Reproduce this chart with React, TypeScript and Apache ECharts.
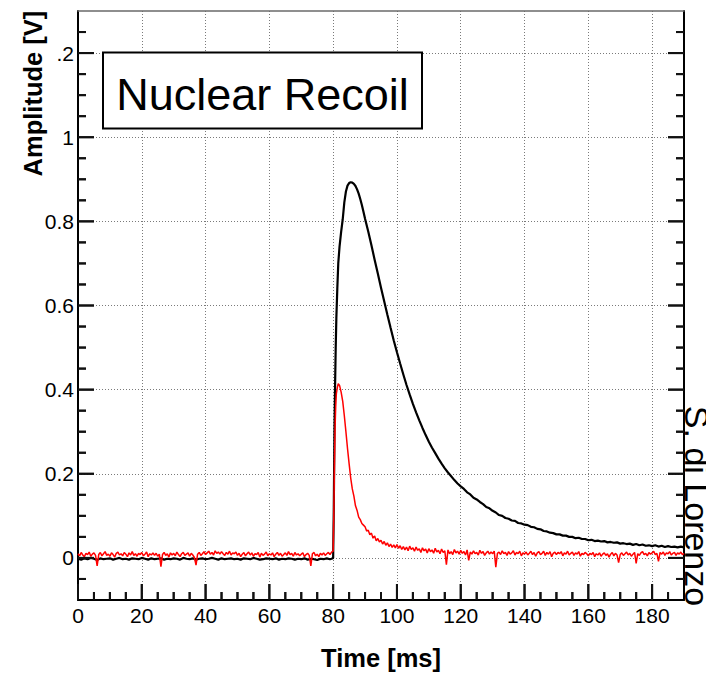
import { useEffect, useRef } from "react";
import * as echarts from "echarts";

// Sampling times of the slow (black) trace (ms)
const blackTimeMs = [
  0, 1, 2, 3, 4, 5, 6, 7, 8, 9, 10, 11, 12, 13, 14, 15, 16, 17, 18, 19,
  20, 21, 22, 23, 24, 25, 26, 27, 28, 29, 30, 31, 32, 33, 34, 35, 36, 37, 38, 39,
  40, 41, 42, 43, 44, 45, 46, 47, 48, 49, 50, 51, 52, 53, 54, 55, 56, 57, 58, 59,
  60, 61, 62, 63, 64, 65, 66, 67, 68, 69, 70, 71, 72, 73, 74, 75, 76, 77, 78, 79,
  79.5, 80, 80.2, 80.4, 80.6, 80.8, 81, 81.3, 81.6, 82, 82.5, 83, 83.5, 84, 84.5,
  85, 85.5, 86, 86.5, 87, 87.5, 88, 88.5, 89, 89.5,
  90, 91, 92, 93, 94, 95, 96, 97, 98, 99, 100, 101, 102, 103, 104, 105, 106, 107, 108, 109,
  110, 111, 112, 113, 114, 115, 116, 117, 118, 119, 120, 121, 122, 123, 124, 125, 126, 127, 128, 129,
  130, 131, 132, 133, 134, 135, 136, 137, 138, 139, 140, 141, 142, 143, 144, 145, 146, 147, 148, 149,
  150, 151, 152, 153, 154, 155, 156, 157, 158, 159, 160, 161, 162, 163, 164, 165, 166, 167, 168, 169,
  170, 171, 172, 173, 174, 175, 176, 177, 178, 179, 180, 181, 182, 183, 184, 185, 186, 187, 188, 189,
  190,
];

// Slow (black) trace amplitude (V)
const traceBlack = [
  -0.002, -0.004, -0.001, -0.003, 0.0, -0.002, -0.005, -0.001, -0.003, -0.002,
  -0.001, -0.004, -0.002, 0.0, -0.003, -0.002, -0.004, -0.001, -0.002, -0.003,
  0.0, -0.002, -0.004, -0.001, -0.003, -0.002, -0.001, -0.004, -0.002, -0.003,
  -0.001, -0.002, -0.004, 0.0, -0.002, -0.003, -0.001, -0.004, -0.002, -0.001,
  -0.003, -0.002, 0.0, -0.002, -0.004, -0.001, -0.003, -0.002, -0.001, -0.003,
  -0.002, -0.004, -0.001, -0.002, -0.003, 0.0, -0.002, -0.004, -0.003, -0.001,
  -0.002, -0.003, -0.001, -0.004, -0.002, -0.003, -0.001, -0.002, -0.004, -0.002,
  -0.003, -0.001, -0.004, -0.002, -0.003, -0.005, -0.002, -0.003, -0.001, -0.003,
  -0.002, 0.0, 0.12, 0.3, 0.41, 0.5, 0.57, 0.64, 0.7, 0.74, 0.775, 0.805, 0.845, 0.871, 0.885,
  0.891, 0.893, 0.892, 0.889, 0.884, 0.876, 0.866, 0.853, 0.839, 0.823,
  0.806, 0.776, 0.743, 0.709, 0.676, 0.642, 0.61, 0.578, 0.547, 0.517,
  0.489, 0.462, 0.436, 0.411, 0.388, 0.366, 0.346, 0.327, 0.309, 0.292,
  0.276, 0.262, 0.249, 0.236, 0.224, 0.213, 0.203, 0.194, 0.185, 0.177,
  0.17, 0.164, 0.156, 0.151, 0.143, 0.139, 0.133, 0.128, 0.121, 0.118,
  0.112, 0.108, 0.102, 0.1, 0.095, 0.093, 0.089, 0.088, 0.083, 0.082,
  0.079, 0.078, 0.074, 0.073, 0.069, 0.068, 0.064, 0.063, 0.06, 0.059,
  0.056, 0.056, 0.053, 0.053, 0.05, 0.05, 0.047, 0.048, 0.045, 0.045,
  0.042, 0.043, 0.04, 0.041, 0.039, 0.04, 0.037, 0.038, 0.036, 0.037,
  0.034, 0.035, 0.033, 0.034, 0.031, 0.033, 0.03, 0.032, 0.029, 0.03,
  0.028, 0.03, 0.027, 0.029, 0.026, 0.028, 0.026, 0.027, 0.025, 0.027,
  0.025,
];

// Sampling times of the fast (red) trace (ms)
const redTimeMs = [
  0, 0.5, 1, 1.5, 2, 2.5, 3, 3.5, 4, 4.5, 5, 5.5, 6, 6.5, 7, 7.5, 8, 8.5, 9, 9.5,
  10, 10.5, 11, 11.5, 12, 12.5, 13, 13.5, 14, 14.5, 15, 15.5, 16, 16.5, 17, 17.5, 18, 18.5, 19, 19.5,
  20, 20.5, 21, 21.5, 22, 22.5, 23, 23.5, 24, 24.5, 25, 25.5, 26, 26.5, 27, 27.5, 28, 28.5, 29, 29.5,
  30, 30.5, 31, 31.5, 32, 32.5, 33, 33.5, 34, 34.5, 35, 35.5, 36, 36.5, 37, 37.5, 38, 38.5, 39, 39.5,
  40, 40.5, 41, 41.5, 42, 42.5, 43, 43.5, 44, 44.5, 45, 45.5, 46, 46.5, 47, 47.5, 48, 48.5, 49, 49.5,
  50, 50.5, 51, 51.5, 52, 52.5, 53, 53.5, 54, 54.5, 55, 55.5, 56, 56.5, 57, 57.5, 58, 58.5, 59, 59.5,
  60, 60.5, 61, 61.5, 62, 62.5, 63, 63.5, 64, 64.5, 65, 65.5, 66, 66.5, 67, 67.5, 68, 68.5, 69, 69.5,
  70, 70.5, 71, 71.5, 72, 72.5, 73, 73.5, 74, 74.5, 75, 75.5, 76, 76.5, 77, 77.5, 78, 78.5, 79, 79.5,
  80, 80.2, 80.4, 80.6, 80.8, 81, 81.3, 81.6, 82, 82.5, 83, 83.5, 84, 84.5,
  85, 85.5, 86, 86.5, 87, 87.5, 88, 88.5, 89, 89.5,
  90, 90.5, 91, 91.5, 92, 92.5, 93, 93.5, 94, 94.5, 95, 95.5, 96, 96.5, 97, 97.5, 98, 98.5, 99, 99.5,
  100, 100.5, 101, 101.5, 102, 102.5, 103, 103.5, 104, 104.5, 105, 105.5, 106, 106.5, 107, 107.5, 108, 108.5, 109, 109.5,
  110, 110.5, 111, 111.5, 112, 112.5, 113, 113.5, 114, 114.5, 115, 115.5, 116, 116.5, 117, 117.5, 118, 118.5, 119, 119.5,
  120, 120.5, 121, 121.5, 122, 122.5, 123, 123.5, 124, 124.5, 125, 125.5, 126, 126.5, 127, 127.5, 128, 128.5, 129, 129.5,
  130, 130.5, 131, 131.5, 132, 132.5, 133, 133.5, 134, 134.5, 135, 135.5, 136, 136.5, 137, 137.5, 138, 138.5, 139, 139.5,
  140, 140.5, 141, 141.5, 142, 142.5, 143, 143.5, 144, 144.5, 145, 145.5, 146, 146.5, 147, 147.5, 148, 148.5, 149, 149.5,
  150, 150.5, 151, 151.5, 152, 152.5, 153, 153.5, 154, 154.5, 155, 155.5, 156, 156.5, 157, 157.5, 158, 158.5, 159, 159.5,
  160, 160.5, 161, 161.5, 162, 162.5, 163, 163.5, 164, 164.5, 165, 165.5, 166, 166.5, 167, 167.5, 168, 168.5, 169, 169.5,
  170, 170.5, 171, 171.5, 172, 172.5, 173, 173.5, 174, 174.5, 175, 175.5, 176, 176.5, 177, 177.5, 178, 178.5, 179, 179.5,
  180, 180.5, 181, 181.5, 182, 182.5, 183, 183.5, 184, 184.5, 185, 185.5, 186, 186.5, 187, 187.5, 188, 188.5, 189, 189.5,
  190,
];

// Fast (red) trace amplitude (V)
const traceRed = [
  0.01, 0.005, 0.013, 0.007, 0.003, 0.011, 0.008, 0.014, 0.004, 0.009,
  0.012, 0.006, -0.019, 0.008, 0.013, 0.005, 0.01, 0.015, 0.006, 0.009,
  0.004, 0.012, 0.008, 0.002, 0.011, 0.014, 0.007, 0.01, 0.005, 0.013,
  0.009, 0.003, 0.012, 0.007, 0.015, 0.006, 0.01, 0.004, 0.011, 0.008,
  0.013, 0.005, 0.009, 0.014, 0.003, 0.01, 0.007, 0.012, 0.006, 0.011,
  0.004, 0.009, -0.021, 0.008, 0.013, 0.006, 0.01, 0.002, 0.012, 0.007,
  0.011, 0.005, 0.014, 0.008, 0.003, 0.01, 0.013, 0.006, 0.009, 0.012,
  0.004, 0.011, 0.007, 0.001, -0.017, 0.009, 0.013, 0.006, 0.01, 0.015,
  0.008, 0.012, 0.016, 0.009, 0.013, 0.007, 0.017, 0.011, 0.014, 0.009,
  0.015, 0.01, 0.006, 0.013, 0.009, 0.016, 0.007, 0.012, 0.01, 0.014,
  0.006, 0.011, 0.003, 0.009, 0.013, 0.005, 0.01, 0.014, 0.007, 0.012,
  0.004, 0.01, 0.008, 0.013, 0.002, 0.011, 0.006, 0.009, 0.014, 0.005,
  0.01, 0.007, 0.012, 0.003, 0.009, 0.013, 0.006, 0.011, 0.004, 0.008,
  0.012, 0.006, 0.015, 0.008, 0.011, 0.004, 0.013, 0.007, 0.01, 0.005,
  0.009, 0.012, 0.003, 0.008, 0.011, 0.006, -0.019, 0.01, 0.013, 0.005,
  0.009, 0.003, 0.011, 0.007, 0.012, 0.006, 0.01, 0.013, 0.008, 0.014,
  0.016, 0.1, 0.22, 0.31, 0.36, 0.39, 0.405, 0.414, 0.41, 0.394, 0.372, 0.338, 0.3, 0.26,
  0.224, 0.19, 0.164, 0.147, 0.124, 0.113, 0.097, 0.091, 0.082, 0.078,
  0.074, 0.064, 0.066, 0.055, 0.059, 0.047, 0.052, 0.041, 0.046, 0.038,
  0.042, 0.033, 0.039, 0.03, 0.036, 0.027, 0.033, 0.025, 0.031, 0.024,
  0.032, 0.023, 0.029, 0.02, 0.027, 0.019, 0.026, 0.017, 0.028, 0.02,
  0.024, 0.016, 0.026, 0.018, 0.022, 0.013, 0.024, 0.017, 0.021, 0.012,
  0.022, 0.015, 0.019, 0.011, 0.023, 0.014, 0.018, 0.01, 0.021, 0.013,
  0.017, -0.016, 0.019, 0.01, 0.015, 0.008, 0.02, 0.012, 0.016, 0.009,
  0.018, 0.011, 0.015, 0.007, 0.019, -0.006, 0.014, 0.009, 0.017, 0.01,
  0.013, 0.007, 0.018, 0.011, 0.015, 0.006, 0.012, 0.016, 0.009, 0.014,
  0.01, 0.016, -0.022, 0.011, 0.014, 0.008, 0.017, 0.01, 0.013, 0.006,
  0.015, 0.009, 0.012, 0.017, 0.007, 0.013, 0.01, 0.016, 0.005, 0.012,
  0.009, 0.014, 0.007, 0.011, 0.016, 0.008, 0.013, 0.004, 0.012, 0.015,
  0.008, 0.011, 0.016, 0.006, 0.013, 0.009, 0.015, 0.003, 0.011, 0.014,
  0.008, 0.013, 0.01, 0.015, 0.005, 0.012, 0.009, 0.016, 0.007, 0.011,
  0.014, 0.006, 0.012, 0.009, 0.015, 0.004, 0.011, 0.008, 0.013, 0.01,
  0.005, 0.011, 0.008, 0.013, 0.003, 0.01, 0.007, 0.012, 0.004, 0.009,
  0.012, 0.006, 0.01, 0.002, 0.009, 0.013, 0.005, 0.011, 0.007, -0.011,
  0.008, 0.012, 0.006, 0.01, 0.014, 0.007, 0.011, 0.004, 0.009, 0.013,
  -0.013, 0.01, 0.006, 0.012, 0.015, 0.008, 0.011, 0.005, 0.013, 0.009,
  0.012, 0.016, 0.008, 0.011, -0.008, 0.013, 0.009, 0.014, 0.006, 0.012,
  0.01, 0.015, 0.007, 0.011, 0.013, 0.006, 0.012, 0.009, 0.014, 0.008,
  0.011,
];

// Axis ticks and their labels
const xTickLabels = ["0", "20", "40", "60", "80", "100", "120", "140", "160", "180"];
const yTickLabels = ["0", "0.2", "0.4", "0.6", "0.8", "1", ".2"];
const xMajorTicks = [0, 20, 40, 60, 80, 100, 120, 140, 160, 180];
const xMinorTicks = [
  5, 10, 15, 25, 30, 35, 45, 50, 55, 65, 70, 75, 85, 90, 95, 105, 110, 115,
  125, 130, 135, 145, 150, 155, 165, 170, 175, 185,
];
const yMajorTicks = [0, 0.2, 0.4, 0.6, 0.8, 1, 1.2];
const yMinorTicks = [
  -0.05, 0.05, 0.1, 0.15, 0.25, 0.3, 0.35, 0.45, 0.5, 0.55, 0.65, 0.7, 0.75,
  0.85, 0.9, 0.95, 1.05, 1.1, 1.15, 1.25,
];

const X_MIN = 0;
const X_MAX = 190;
const Y_MIN = -0.1;
const Y_MAX = 1.3;

const FONT = "'Liberation Sans', Arial, Helvetica, sans-serif";
const GRID_LINE = { color: "#7a7a7a", width: 1, type: [1, 2] as number[] };
const TICK_COLOR = "#111";
const TICK_WIDTH = 2;
const MAJOR_LEN = 16;
const MINOR_LEN = 8;

// bottom-edge tick marks, pointing up into the frame
const xTickSeries = (ticks: number[], len: number) => ({
  type: "custom",
  xAxisIndex: 0,
  yAxisIndex: 0,
  silent: true,
  z: 5,
  data: ticks.map((v) => [v, Y_MIN]),
  renderItem: (_p: any, api: any) => {
    const p = api.coord([api.value(0), Y_MIN]);
    return {
      type: "line",
      shape: { x1: p[0], y1: p[1], x2: p[0], y2: p[1] - len },
      style: { stroke: TICK_COLOR, lineWidth: TICK_WIDTH },
    };
  },
});

// left- and right-edge tick marks, pointing into the frame
const yTickSeries = (ticks: number[], len: number) => ({
  type: "custom",
  xAxisIndex: 0,
  yAxisIndex: 0,
  silent: true,
  z: 5,
  data: ticks.map((v) => [X_MIN, v]),
  renderItem: (_p: any, api: any) => {
    const l = api.coord([X_MIN, api.value(1)]);
    const r = api.coord([X_MAX, api.value(1)]);
    return {
      type: "group",
      children: [
        {
          type: "line", shape: { x1: l[0], y1: l[1], x2: l[0] + len, y2: l[1] },
          style: { stroke: TICK_COLOR, lineWidth: TICK_WIDTH },
        },
        {
          type: "line", shape: { x1: r[0], y1: r[1], x2: r[0] - len, y2: r[1] },
          style: { stroke: TICK_COLOR, lineWidth: TICK_WIDTH },
        },
      ],
    };
  },
});

export default function App() {
  const ref = useRef<HTMLDivElement>(null);

  useEffect(() => {
    if (!ref.current) return;
    const chart = echarts.init(ref.current, undefined, { renderer: "svg" });

    const black = blackTimeMs.map((t, i) => [t, traceBlack[i]]);
    const red = redTimeMs.map((t, i) => [t, traceRed[i]]);

    const labelStyle = { color: "#000", fontSize: 21, fontFamily: FONT };

    const textBox = [
      {
        type: "rect", z: 100,
        shape: { x: 103, y: 52.5, width: 319, height: 76 },
        style: { fill: "#fff", stroke: "#000", lineWidth: 2 },
      },
      {
        type: "text", z: 101, x: 262.5, y: 94,
        style: {
          text: "Nuclear Recoil", fontSize: 45, fontFamily: FONT, fill: "#000",
          align: "center", verticalAlign: "middle",
        },
      },
      {
        type: "text", z: 101, x: 33, y: 93.5, rotation: Math.PI / 2,
        style: {
          text: "Amplitude [V]", fontSize: 25.5, fontWeight: "bold", fontFamily: FONT, fill: "#000",
          align: "center", verticalAlign: "middle",
        },
      },
      {
        type: "text", z: 101, x: 381, y: 658,
        style: {
          text: "Time [ms]", fontSize: 25.5, fontWeight: "bold", fontFamily: FONT, fill: "#000",
          align: "center", verticalAlign: "middle",
        },
      },
      {
        type: "text", z: 101, x: 697, y: 506, rotation: -Math.PI / 2,
        style: {
          text: "S. di Lorenzo", fontSize: 34, fontFamily: FONT, fill: "#000",
          align: "center", verticalAlign: "middle",
        },
      },
    ];

    chart.setOption({
      animation: false,
      backgroundColor: "#fff",
      grid: [
        // data frame: -0.1 .. 1.3 V (one x and one y axis only)
        { left: 78, right: 22, top: 11, bottom: 75 },
        // inner frame covering 0 .. 1.2 V, for the amplitude labels and grid lines
        { left: 78, right: 22, top: 53.07, bottom: 117.07 },
        // same rectangle as the data frame, for the top and right edges
        { left: 78, right: 22, top: 11, bottom: 75 },
      ],
      xAxis: [
        {
          type: "value", gridIndex: 0, position: "bottom", min: X_MIN, max: X_MAX, interval: 20,
          axisLine: { show: true, onZero: false, lineStyle: { color: "#000", width: 2 } },
          axisTick: { show: false },
          axisLabel: {
            show: true, margin: 5, ...labelStyle,
            formatter: (_v: number, i: number) => xTickLabels[i] ?? "",
          },
          splitLine: { show: true, lineStyle: GRID_LINE },
        },
        { type: "value", gridIndex: 1, min: X_MIN, max: X_MAX, show: false },
        {
          type: "value", gridIndex: 2, position: "top", min: X_MIN, max: X_MAX, interval: 20,
          axisLine: { show: true, onZero: false, lineStyle: { color: "#6a6a6a", width: 1.5 } },
          axisTick: { show: false }, axisLabel: { show: false }, splitLine: { show: false },
        },
      ],
      yAxis: [
        {
          type: "value", gridIndex: 0, position: "left", min: Y_MIN, max: Y_MAX, interval: 0.1,
          axisLine: { show: true, onZero: false, lineStyle: { color: "#000", width: 2 } },
          axisTick: { show: false }, axisLabel: { show: false }, splitLine: { show: false },
        },
        {
          type: "value", gridIndex: 1, position: "left", min: 0, max: 1.2, interval: 0.2,
          axisLine: { show: false, onZero: false },
          axisTick: { show: false },
          axisLabel: {
            show: true, margin: 4, ...labelStyle,
            formatter: (_v: number, i: number) => yTickLabels[i] ?? "",
          },
          splitLine: { show: true, lineStyle: GRID_LINE },
        },
        {
          type: "value", gridIndex: 2, position: "right", min: Y_MIN, max: Y_MAX, interval: 0.1,
          axisLine: { show: true, onZero: false, lineStyle: { color: "#000", width: 2 } },
          axisTick: { show: false }, axisLabel: { show: false }, splitLine: { show: false },
        },
      ],
      series: [
        {
          type: "line", xAxisIndex: 0, yAxisIndex: 0, data: black,
          showSymbol: false, clip: true, z: 3,
          lineStyle: { color: "#000", width: 2.2 },
        },
        {
          type: "line", xAxisIndex: 0, yAxisIndex: 0, data: red,
          showSymbol: false, clip: true, z: 4,
          lineStyle: { color: "#ff0000", width: 1.5 },
        },
        xTickSeries(xMajorTicks, MAJOR_LEN),
        xTickSeries(xMinorTicks, MINOR_LEN),
        yTickSeries(yMajorTicks, MAJOR_LEN),
        yTickSeries(yMinorTicks, MINOR_LEN),
      ],
      graphic: textBox,
    });

    // The same tick marks as plain graphic lines, placed through the axis scales
    try {
      const finder = { xAxisIndex: 0, yAxisIndex: 0 };
      const toPx = (x: number, y: number) => chart.convertToPixel(finder, [x, y]) as unknown;
      const ok = (p: unknown): p is number[] =>
        Array.isArray(p) && Number.isFinite(p[0]) && Number.isFinite(p[1]);
      const tick = (x1: number, y1: number, x2: number, y2: number) => ({
        type: "line", z: 90, silent: true,
        shape: { x1, y1, x2, y2 },
        style: { stroke: TICK_COLOR, lineWidth: TICK_WIDTH },
      });
      const ticks: any[] = [];
      for (const [list, len] of [[xMajorTicks, MAJOR_LEN], [xMinorTicks, MINOR_LEN]] as [number[], number][]) {
        for (const v of list) {
          const p = toPx(v, Y_MIN);
          if (ok(p)) ticks.push(tick(p[0], p[1], p[0], p[1] - len));
        }
      }
      for (const [list, len] of [[yMajorTicks, MAJOR_LEN], [yMinorTicks, MINOR_LEN]] as [number[], number][]) {
        for (const v of list) {
          const l = toPx(X_MIN, v);
          const r = toPx(X_MAX, v);
          if (ok(l)) ticks.push(tick(l[0], l[1], l[0] + len, l[1]));
          if (ok(r)) ticks.push(tick(r[0], r[1], r[0] - len, r[1]));
        }
      }
      if (ticks.length) chart.setOption({ graphic: [...textBox, ...ticks] });
    } catch (e) {
      // keep the chart as drawn if pixel conversion is unavailable
    }

    return () => chart.dispose();
  }, []);

  return (
    <div
      ref={ref}
      style={{ position: "fixed", left: 0, top: 0, width: 706, height: 675, background: "#fff" }}
    />
  );
}
